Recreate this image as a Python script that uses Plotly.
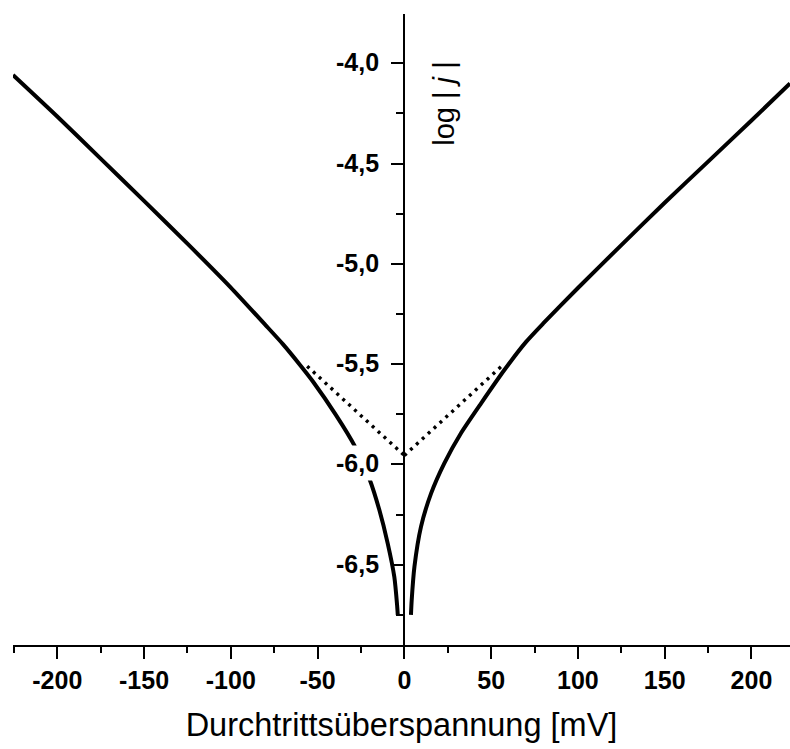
import plotly.graph_objects as go

# ---- data ----
eta_cath = [-225.5, -200, -175, -150, -125, -100, -80, -70, -60, -52.8,
            -39.3, -28.8, -20.1, -14.4, -9.6, -5.8, -4.2, -3.8]
logj_cath = [-4.058, -4.265, -4.475, -4.686, -4.899, -5.118, -5.305, -5.40,
             -5.505, -5.585, -5.755, -5.905, -6.072, -6.227, -6.393, -6.56, -6.70,
             -6.75]

eta_anod = [3.8, 4.2, 5.8, 9.6, 15.4, 23, 32.6, 44.2, 57.6, 70, 80, 100, 125,
            150, 175, 200, 222.2]
logj_anod = [-6.75, -6.68, -6.51, -6.31, -6.144, -5.994, -5.844, -5.695, -5.529,
             -5.39, -5.297, -5.12, -4.906, -4.695, -4.49, -4.285, -4.10]

tafel_cath_eta = [-56, 0]
tafel_cath_logj = [-5.51, -5.955]
tafel_anod_eta = [0, 56]
tafel_anod_logj = [-5.955, -5.51]

x_tickvals = [-200, -150, -100, -50, 0, 50, 100, 150, 200]
x_ticktext = ["-200", "-150", "-100", "-50", "0", "50", "100", "150", "200"]
y_tickvals = [-6.5, -6.0, -5.5, -5.0, -4.5, -4.0]
y_ticktext = ["-6,5", "-6,0", "-5,5", "-5,0", "-4,5", "-4,0"]

x_title = "Durchtrittsüberspannung [mV]"
y_title = "log | <i>j</i> |"

X_RANGE = [-225.5, 222.2]
Y_RANGE = [-6.90, -3.754]

FONT = "Liberation Sans, Arial, sans-serif"

fig = go.Figure()
for ex, ly in [(eta_cath, logj_cath), (eta_anod, logj_anod)]:
    fig.add_trace(go.Scatter(x=ex, y=ly, mode="lines",
                             line=dict(color="black", width=4, shape="spline",
                                       smoothing=0.6),
                             showlegend=False, hoverinfo="skip"))
for ex, ly in [(tafel_cath_eta, tafel_cath_logj), (tafel_anod_eta, tafel_anod_logj)]:
    fig.add_trace(go.Scatter(x=ex, y=ly, mode="lines",
                             line=dict(color="black", width=3.4, dash="3px,5px"),
                             showlegend=False, hoverinfo="skip"))

ypos = (0 - X_RANGE[0]) / (X_RANGE[1] - X_RANGE[0])

# y tick labels as white-backed text (they mask the curve, as in the original)
annotations = []
for v, t in zip(y_tickvals, y_ticktext):
    annotations.append(dict(
        text=t, x=ypos, y=v, xref="paper", yref="y",
        xanchor="right", yanchor="middle", xshift=-21, yshift=1,
        showarrow=False, bgcolor="white", borderpad=3,
        font=dict(family=FONT, size=25, color="black", weight="bold"),
    ))
annotations.append(dict(
    text=y_title, x=23, y=-4.2, xref="x", yref="y",
    textangle=-90, showarrow=False,
    font=dict(family=FONT, size=29, color="black"),
))

fig.update_layout(
    width=790, height=749,
    margin=dict(l=13, r=0, t=14, b=104),
    plot_bgcolor="white", paper_bgcolor="white",
    font=dict(family=FONT, color="black"),
    xaxis=dict(
        range=X_RANGE, showgrid=False, zeroline=False,
        showline=True, linecolor="black", linewidth=2,
        ticks="outside", ticklen=12, tickwidth=2, tickcolor="black",
        tickvals=x_tickvals, ticktext=x_ticktext,
        tickfont=dict(family=FONT, size=25, color="black", weight="bold"),
        minor=dict(ticks="outside", ticklen=6, tickwidth=2, tickcolor="black",
                   dtick=25, tick0=0, showgrid=False),
        title=dict(text=x_title, font=dict(family=FONT, size=32.5, color="black"),
                   standoff=20),
        anchor="y", side="bottom",
    ),
    yaxis=dict(
        range=Y_RANGE, showgrid=False, zeroline=False,
        showline=True, linecolor="black", linewidth=2,
        ticks="outside", ticklen=12, tickwidth=2, tickcolor="black",
        tickvals=y_tickvals, showticklabels=False,
        minor=dict(ticks="outside", ticklen=7, tickwidth=2, tickcolor="black",
                   dtick=0.25, tick0=-4.0, showgrid=False),
        anchor="free", position=ypos, side="left",
    ),
    annotations=annotations,
)

fig.write_html("out.html")
